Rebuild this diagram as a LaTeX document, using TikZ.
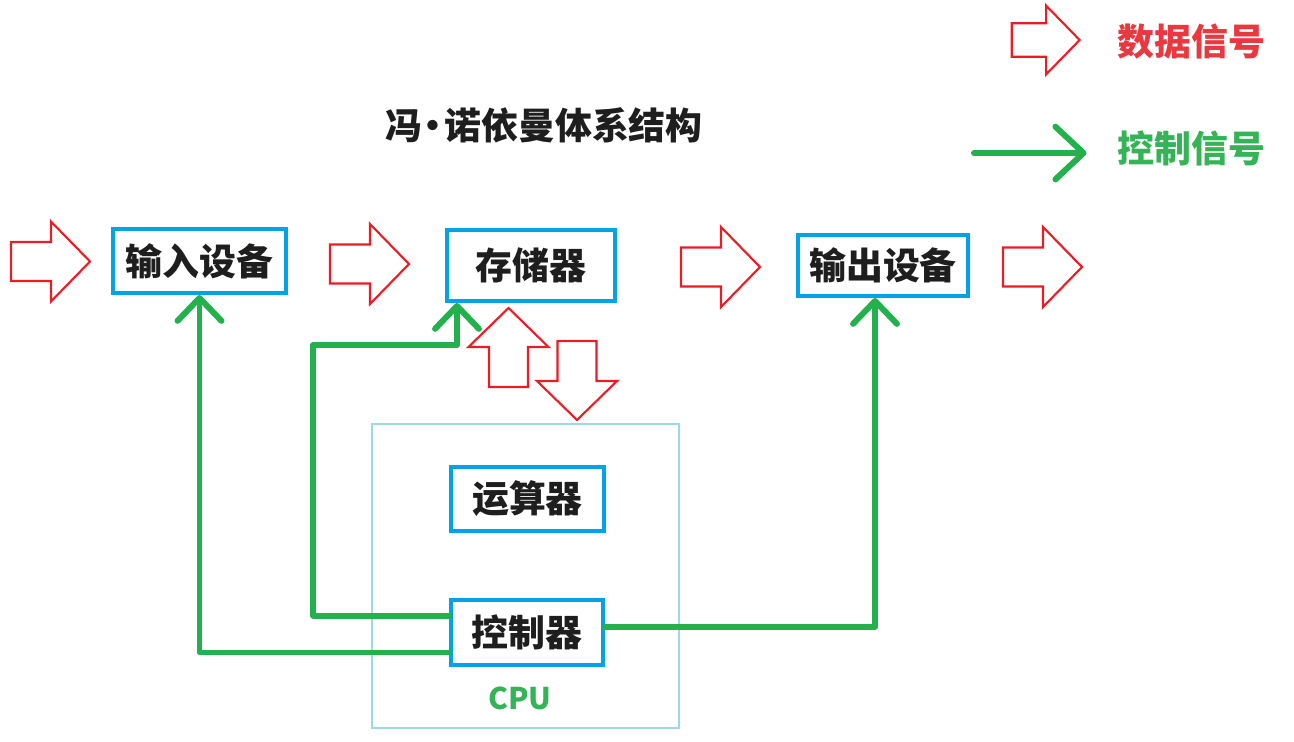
\documentclass[tikz,border=0pt]{standalone}
\usepackage{fontspec}
\usetikzlibrary{arrows.meta}
\newfontfamily\cjk{Noto Sans CJK SC}
\definecolor{boxblue}{HTML}{00A2E8}
\definecolor{cpublue}{HTML}{99D9EA}
\definecolor{datared}{HTML}{ED1C24}
\definecolor{ctrlgreen}{HTML}{22B14C}
\definecolor{labelred}{HTML}{E9383F}
\definecolor{labelgreen}{HTML}{34B457}
\definecolor{inkblack}{HTML}{1E1E1E}

\begin{document}
\begin{tikzpicture}[x=0.02cm, y=-0.02cm,
    cjkbig/.style={font=\cjk\bfseries\fontsize{21}{25}\selectfont},
    unit/.style={cjkbig, draw=boxblue, line width=2.3pt, inner sep=0pt, text=inkblack},
    ctrlline/.style={ctrlgreen, line width=3.4pt, line join=round, line cap=round,
        -{Straight Barb[length=13pt, width=25pt, round]}},
    datarrow/.pic={\draw[datared, line width=1.2pt, line join=miter]
        (0,-19.5) -- (40,-19.5) -- (40,-40) -- (79,0) -- (40,40) -- (40,19.5) -- (0,19.5) -- cycle;}]
    \useasboundingbox (0,0) rectangle (1294,741);
    % Title
    \node[cjkbig, text=inkblack] (title) at (544,125) {冯\kern-0.2em·\kern-0.2em 诺依曼体系结构};
    % Legend
    \pic[scale=0.86] at (1011.7,40) {datarrow};
    \node[cjkbig, text=labelred] (datalabel) at (1191.5,42) {数据信号};
    \node[cjkbig, text=labelgreen] (ctrllabel) at (1191.5,148) {控制信号};
    \coordinate (legstart) at (974,153);
    \draw[ctrlline, -{Straight Barb[length=16pt, width=30pt, round]}] (legstart) -- ([xshift=-0.5cm, yshift=-0.1cm]ctrllabel.west);
    % Units
    \node[unit, minimum width=3.46cm, minimum height=1.28cm] (in) at (199.5,261) {输入设备};
    \node[unit, minimum width=3.36cm, minimum height=1.42cm] (mem) at (531,265.5) {存储器};
    \node[unit, minimum width=3.40cm, minimum height=1.22cm] (out) at (883,265.5) {输出设备};
    % CPU
    \node[draw=cpublue, line width=1.3pt, minimum width=6.14cm, minimum height=6.08cm] (cpu) at (525.5,576) {};
    \node[unit, minimum width=3.06cm, minimum height=1.28cm] (alu) at (527.5,499) {运算器};
    \node[unit, minimum width=3.04cm, minimum height=1.30cm] (ctrl) at (527,632.5) {控制器};
    \node[font=\cjk\bfseries\fontsize{17}{20}\selectfont, text=labelgreen] (cpulabel) at (520,698) {CPU};
    % Data signals
    \pic at (11,261.5) {datarrow};
    \pic at (330,264) {datarrow};
    \pic at (681,267) {datarrow};
    \pic at (1003,267) {datarrow};
    \pic[rotate=90] at (508.5,387) {datarrow};
    \pic[rotate=-90] at (577,341) {datarrow};
    % Control signals
    \coordinate (bend) at (313,345);
    \draw[ctrlline] ([yshift=-0.4cm]ctrl.west) -| (in.south);
    \draw[ctrlline] ([yshift=0.34cm]ctrl.west) -| (bend) -| ([xshift=0.24cm]mem.south west);
    \draw[ctrlline] ([yshift=0.12cm]ctrl.east) -| ([xshift=-0.16cm]out.south);
\end{tikzpicture}
\end{document}
